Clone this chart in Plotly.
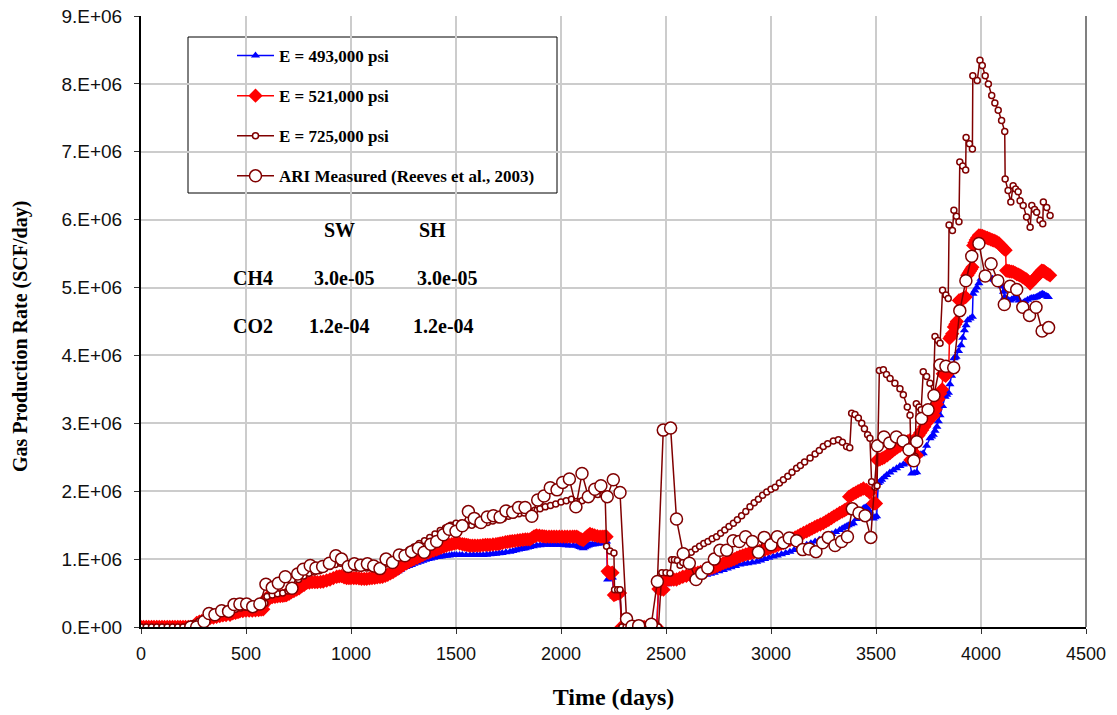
import plotly.graph_objects as go

# ---------------- data: (day, rate in million SCF/day) ----------------
zero_start = [(0, 0), (12, 0), (25, 0), (37, 0), (50, 0), (62, 0), (75, 0), (87, 0), (100, 0), (112, 0), (125, 0),
              (137, 0), (150, 0), (162, 0), (175, 0), (187, 0), (200, 0), (212, 0), (225, 0), (237, 0), (250, 0)]
zero_shutin = [(2288, 0), (2300, 0), (2312, 0), (2324, 0), (2336, 0), (2348, 0), (2360, 0), (2372, 0), (2384, 0),
               (2396, 0), (2408, 0), (2420, 0), (2432, 0), (2444, 0), (2456, 0)]

pts_493_a = [(265, 0.05), (278, 0.07), (290, 0.08), (305, 0.10), (318, 0.11), (329, 0.12), (345, 0.13), (360, 0.14),
             (375, 0.15), (390, 0.16), (405, 0.165), (424, 0.17), (437, 0.19), (450, 0.20), (462, 0.21), (471, 0.22),
             (485, 0.225), (500, 0.23), (515, 0.23), (530, 0.23), (545, 0.235), (560, 0.24), (572, 0.245), (582, 0.25),
             (590, 0.33), (598, 0.41), (612, 0.415), (625, 0.42), (638, 0.425), (650, 0.43), (663, 0.435), (675, 0.44),
             (685, 0.445), (693, 0.45), (705, 0.47), (715, 0.49), (728, 0.51), (741, 0.53), (753, 0.555), (765, 0.58),
             (777, 0.60), (789, 0.63), (802, 0.635), (815, 0.64), (828, 0.64), (840, 0.64), (855, 0.645), (868, 0.65),
             (884, 0.665), (900, 0.68), (916, 0.70), (932, 0.72), (944, 0.725), (955, 0.73), (967, 0.71), (979, 0.70),
             (990, 0.70), (1000, 0.70), (1013, 0.70), (1025, 0.70), (1038, 0.695), (1050, 0.69), (1063, 0.69),
             (1075, 0.69), (1088, 0.695), (1100, 0.70), (1113, 0.705), (1125, 0.71), (1138, 0.715), (1150, 0.72),
             (1163, 0.735), (1175, 0.75), (1188, 0.765), (1200, 0.78), (1213, 0.80), (1225, 0.82), (1237, 0.845),
             (1249, 0.87), (1262, 0.885), (1275, 0.90), (1288, 0.915), (1300, 0.93), (1315, 0.945), (1329, 0.96),
             (1342, 0.975), (1355, 0.99), (1368, 1.00), (1380, 1.01), (1394, 1.02), (1408, 1.03), (1419, 1.035),
             (1430, 1.04), (1443, 1.045), (1455, 1.05), (1468, 1.055), (1480, 1.06), (1492, 1.06), (1503, 1.06),
             (1517, 1.06), (1530, 1.06), (1548, 1.06), (1567, 1.06), (1583, 1.06), (1600, 1.06), (1615, 1.06),
             (1630, 1.06), (1646, 1.065), (1662, 1.07), (1676, 1.075), (1690, 1.08), (1705, 1.085), (1720, 1.09),
             (1738, 1.10), (1757, 1.11), (1771, 1.12), (1785, 1.13), (1798, 1.14), (1810, 1.15), (1820, 1.155),
             (1830, 1.16), (1841, 1.17), (1852, 1.18), (1868, 1.19), (1884, 1.20), (1900, 1.205), (1916, 1.21),
             (1933, 1.21), (1950, 1.21), (1965, 1.21), (1979, 1.21), (1995, 1.21), (2010, 1.21), (2025, 1.205),
             (2040, 1.20), (2058, 1.20), (2075, 1.20), (2083, 1.19), (2090, 1.18), (2098, 1.17), (2106, 1.16),
             (2114, 1.175), (2122, 1.19), (2130, 1.20), (2138, 1.21), (2149, 1.215), (2160, 1.22), (2173, 1.225),
             (2186, 1.23), (2196, 1.24), (2205, 1.25), (2211, 1.255), (2217, 1.26), (2222, 0.70), (2228, 0.71),
             (2233, 0.72), (2239, 0.725), (2245, 0.73), (2252, 0.45), (2258, 0.46), (2265, 0.47), (2273, 0.475),
             (2281, 0.48)]
pts_493_b = [(2464, 0.54), (2476, 0.54), (2488, 0.54), (2503, 0.63), (2511, 0.64), (2519, 0.65), (2535, 0.66),
             (2550, 0.67), (2565, 0.685), (2580, 0.70), (2597, 0.71), (2614, 0.72), (2632, 0.73), (2650, 0.74),
             (2672, 0.755), (2694, 0.77), (2712, 0.785), (2730, 0.80), (2752, 0.82), (2773, 0.84), (2792, 0.86),
             (2810, 0.88), (2831, 0.90), (2852, 0.92), (2871, 0.93), (2890, 0.94), (2911, 0.95), (2932, 0.96),
             (2951, 0.98), (2970, 1.00), (2990, 1.02), (3011, 1.04), (3030, 1.055), (3050, 1.07), (3070, 1.09),
             (3090, 1.11), (3110, 1.135), (3130, 1.16), (3150, 1.185), (3170, 1.21), (3190, 1.235), (3210, 1.26),
             (3230, 1.285), (3249, 1.31), (3270, 1.34), (3290, 1.37), (3308, 1.40), (3327, 1.43), (3339, 1.45),
             (3350, 1.47), (3359, 1.485), (3368, 1.50), (3380, 1.515), (3392, 1.53), (3406, 1.59), (3420, 1.65),
             (3430, 1.70), (3440, 1.75), (3448, 1.76), (3455, 1.77), (3462, 1.735), (3470, 1.70), (3480, 1.64),
             (3487, 1.60), (3495, 1.615), (3503, 1.63), (3511, 2.12), (3519, 2.145), (3527, 2.17), (3539, 2.205),
             (3551, 2.24), (3566, 2.275), (3582, 2.31), (3598, 2.34), (3614, 2.37), (3630, 2.395), (3646, 2.42),
             (3654, 2.415), (3662, 2.41), (3670, 2.26), (3682, 2.27), (3694, 2.28), (3702, 2.53), (3714, 2.545),
             (3725, 2.56), (3741, 2.67), (3757, 2.78), (3765, 2.805), (3773, 2.83), (3781, 2.89), (3790, 2.95),
             (3797, 3.03), (3805, 3.12), (3817, 3.255), (3829, 3.39), (3837, 3.42), (3845, 3.45), (3852, 3.575),
             (3860, 3.70), (3866, 3.83), (3871, 3.96), (3876, 3.97), (3881, 3.98), (3893, 4.065), (3905, 4.15),
             (3913, 4.26), (3921, 4.37), (3929, 4.445), (3937, 4.52), (3948, 4.545), (3959, 4.57), (3962, 4.91),
             (3971, 4.955), (3980, 5.00), (3990, 5.065), (4000, 5.13), (4010, 5.135), (4020, 5.14), (4028, 5.14),
             (4035, 5.14), (4045, 5.135), (4054, 5.13), (4062, 5.115), (4070, 5.10), (4078, 5.09), (4086, 5.08),
             (4093, 5.05), (4100, 5.02), (4107, 4.94), (4113, 4.86), (4125, 4.835), (4138, 4.81), (4146, 4.825),
             (4155, 4.84), (4162, 4.85), (4170, 4.86), (4182, 4.81), (4193, 4.76), (4202, 4.78), (4210, 4.80),
             (4222, 4.82), (4234, 4.84), (4242, 4.845), (4250, 4.85), (4258, 4.855), (4265, 4.86), (4272, 4.875),
             (4280, 4.89), (4287, 4.90), (4294, 4.91), (4302, 4.895), (4310, 4.88), (4316, 4.87), (4321, 4.86)]

pts_521_a = [(265, 0.06), (278, 0.08), (290, 0.09), (305, 0.11), (318, 0.12), (329, 0.13), (345, 0.14), (360, 0.15),
             (375, 0.16), (390, 0.17), (405, 0.175), (424, 0.18), (437, 0.20), (450, 0.21), (462, 0.22), (471, 0.23),
             (485, 0.235), (500, 0.24), (515, 0.24), (530, 0.24), (545, 0.245), (560, 0.25), (572, 0.255), (582, 0.26),
             (590, 0.35), (598, 0.43), (612, 0.435), (625, 0.44), (638, 0.445), (650, 0.45), (663, 0.455), (675, 0.46),
             (685, 0.465), (693, 0.47), (705, 0.49), (715, 0.51), (728, 0.53), (741, 0.55), (753, 0.57), (765, 0.60),
             (777, 0.62), (789, 0.65), (802, 0.655), (815, 0.66), (828, 0.66), (840, 0.66), (855, 0.665), (868, 0.67),
             (884, 0.685), (900, 0.70), (916, 0.72), (932, 0.74), (944, 0.745), (955, 0.75), (967, 0.73), (979, 0.72),
             (990, 0.72), (1000, 0.72), (1013, 0.72), (1025, 0.72), (1038, 0.715), (1050, 0.71), (1063, 0.71),
             (1075, 0.71), (1088, 0.715), (1100, 0.72), (1113, 0.725), (1125, 0.73), (1138, 0.735), (1150, 0.74),
             (1163, 0.755), (1175, 0.77), (1188, 0.79), (1200, 0.81), (1213, 0.835), (1225, 0.86), (1237, 0.885),
             (1249, 0.91), (1262, 0.935), (1275, 0.96), (1288, 0.98), (1300, 1.00), (1315, 1.02), (1329, 1.04),
             (1342, 1.06), (1355, 1.08), (1368, 1.095), (1380, 1.11), (1394, 1.125), (1408, 1.14), (1419, 1.155),
             (1430, 1.17), (1443, 1.185), (1455, 1.20), (1468, 1.21), (1480, 1.22), (1492, 1.23), (1503, 1.24),
             (1517, 1.23), (1530, 1.22), (1540, 1.215), (1550, 1.21), (1558, 1.205), (1567, 1.20), (1578, 1.20),
             (1590, 1.20), (1603, 1.20), (1615, 1.20), (1628, 1.205), (1640, 1.21), (1651, 1.21), (1662, 1.21),
             (1676, 1.215), (1690, 1.22), (1700, 1.225), (1710, 1.23), (1722, 1.24), (1735, 1.25), (1746, 1.255),
             (1757, 1.26), (1768, 1.265), (1780, 1.27), (1793, 1.275), (1805, 1.28), (1818, 1.285), (1830, 1.29),
             (1841, 1.29), (1852, 1.29), (1861, 1.31), (1870, 1.33), (1877, 1.34), (1884, 1.35), (1897, 1.345),
             (1910, 1.34), (1920, 1.335), (1930, 1.33), (1943, 1.33), (1955, 1.33), (1967, 1.33), (1979, 1.33),
             (1992, 1.33), (2005, 1.33), (2018, 1.33), (2030, 1.33), (2043, 1.33), (2055, 1.33), (2065, 1.33),
             (2075, 1.33), (2083, 1.315), (2090, 1.30), (2098, 1.29), (2106, 1.28), (2114, 1.305), (2122, 1.33),
             (2130, 1.35), (2138, 1.37), (2149, 1.36), (2160, 1.35), (2173, 1.34), (2186, 1.33), (2196, 1.33),
             (2205, 1.33), (2211, 1.33), (2217, 1.33), (2222, 0.82), (2228, 0.80), (2233, 0.79), (2239, 0.795),
             (2245, 0.80), (2252, 0.47), (2258, 0.48), (2265, 0.49), (2273, 0.495), (2281, 0.50)]
pts_521_b = [(2464, 0.56), (2476, 0.555), (2488, 0.55), (2503, 0.70), (2514, 0.70), (2525, 0.70), (2537, 0.70),
             (2550, 0.70), (2565, 0.72), (2580, 0.74), (2597, 0.755), (2614, 0.77), (2627, 0.78), (2640, 0.79),
             (2652, 0.80), (2665, 0.81), (2680, 0.825), (2694, 0.84), (2707, 0.855), (2720, 0.87), (2733, 0.885),
             (2745, 0.90), (2759, 0.92), (2773, 0.94), (2786, 0.955), (2800, 0.97), (2812, 0.985), (2825, 1.00),
             (2838, 1.02), (2852, 1.04), (2866, 1.055), (2880, 1.07), (2893, 1.08), (2905, 1.09), (2918, 1.10),
             (2932, 1.11), (2946, 1.12), (2960, 1.13), (2972, 1.14), (2985, 1.15), (2998, 1.165), (3011, 1.18),
             (3023, 1.195), (3035, 1.21), (3048, 1.225), (3060, 1.24), (3075, 1.26), (3090, 1.28), (3102, 1.30),
             (3115, 1.32), (3128, 1.34), (3140, 1.36), (3155, 1.385), (3170, 1.41), (3183, 1.43), (3195, 1.45),
             (3208, 1.47), (3220, 1.49), (3235, 1.51), (3249, 1.53), (3262, 1.555), (3275, 1.58), (3288, 1.605),
             (3300, 1.63), (3314, 1.655), (3327, 1.68), (3339, 1.70), (3350, 1.72), (3359, 1.735), (3368, 1.75),
             (3372, 1.92), (3382, 1.94), (3392, 1.96), (3404, 1.98), (3415, 2.00), (3428, 2.02), (3440, 2.04),
             (3455, 2.02), (3470, 1.98), (3487, 1.82), (3494, 1.82), (3500, 1.82), (3506, 2.46), (3513, 2.465),
             (3519, 2.47), (3530, 2.485), (3540, 2.50), (3554, 2.53), (3567, 2.56), (3578, 2.59), (3590, 2.62),
             (3602, 2.645), (3614, 2.67), (3627, 2.695), (3640, 2.72), (3650, 2.735), (3660, 2.75), (3664, 2.46),
             (3672, 2.48), (3680, 2.50), (3687, 2.515), (3694, 2.53), (3702, 2.82), (3711, 2.86), (3720, 2.90),
             (3730, 2.95), (3740, 3.00), (3749, 3.035), (3757, 3.07), (3766, 3.095), (3775, 3.12), (3783, 3.20),
             (3790, 3.28), (3798, 3.36), (3806, 3.44), (3815, 3.50), (3818, 3.73), (3825, 3.715), (3832, 3.70),
             (3839, 3.73), (3846, 3.76), (3850, 4.25), (3856, 4.28), (3863, 4.32), (3871, 4.42), (3878, 4.46),
             (3885, 4.50), (3895, 4.81), (3902, 4.82), (3910, 4.83), (3918, 4.845), (3927, 4.86), (3935, 5.18),
             (3941, 5.21), (3947, 5.24), (3953, 5.27), (3959, 5.30), (3963, 5.62), (3969, 5.66), (3975, 5.70),
             (3982, 5.735), (3990, 5.77), (3998, 5.765), (4006, 5.76), (4014, 5.75), (4022, 5.74), (4030, 5.73),
             (4038, 5.72), (4046, 5.71), (4054, 5.70), (4062, 5.69), (4070, 5.68), (4078, 5.665), (4086, 5.65),
             (4093, 5.625), (4100, 5.60), (4108, 5.575), (4117, 5.55), (4120, 5.25), (4128, 5.245), (4135, 5.24),
             (4144, 5.235), (4153, 5.23), (4162, 5.215), (4170, 5.20), (4178, 5.19), (4185, 5.18), (4193, 5.165),
             (4200, 5.15), (4208, 5.135), (4217, 5.12), (4225, 5.09), (4234, 5.06), (4242, 5.09), (4250, 5.12),
             (4258, 5.14), (4265, 5.16), (4273, 5.19), (4280, 5.22), (4289, 5.25), (4295, 5.245), (4300, 5.24),
             (4307, 5.225), (4313, 5.21), (4321, 5.195), (4329, 5.18)]

days_725 = [0, 25, 50, 75, 100, 125, 150, 175, 200, 225, 250, 275, 300, 325, 350, 375, 400, 425, 450, 475, 500, 525,
            550, 575, 590, 600, 625, 650, 675, 700, 725, 750, 775, 800, 825, 850, 875, 900, 925, 950, 975, 1000, 1025,
            1050, 1075, 1100, 1125, 1150, 1175, 1200, 1225, 1250, 1275, 1300, 1325, 1350, 1375, 1400, 1425, 1450, 1475,
            1500, 1525, 1550, 1575, 1600, 1625, 1650, 1675, 1700, 1725, 1750, 1775, 1800, 1825, 1850, 1875, 1900, 1925,
            1950, 1975, 2000, 2025, 2050, 2075, 2100, 2125, 2150, 2175, 2200, 2210, 2217, 2233, 2252, 2255, 2270, 2281,
            2290, 2310, 2330, 2350, 2370, 2390, 2410, 2430, 2450, 2464, 2480, 2500, 2519, 2527, 2540, 2554, 2567, 2580,
            2598, 2620, 2640, 2660, 2680, 2700, 2720, 2741, 2760, 2780, 2800, 2821, 2840, 2860, 2880, 2900, 2920, 2940,
            2960, 2980, 3000, 3020, 3040, 3059, 3080, 3100, 3122, 3140, 3160, 3186, 3210, 3230, 3249, 3270, 3297, 3321,
            3340, 3360, 3375, 3384, 3400, 3416, 3432, 3445, 3460, 3471, 3479, 3495, 3505, 3516, 3535, 3550, 3567, 3590,
            3614, 3630, 3649, 3662, 3666, 3686, 3692, 3705, 3715, 3725, 3741, 3757, 3773, 3781, 3795, 3805, 3817, 3833,
            3844, 3848, 3864, 3871, 3883, 3895, 3899, 3913, 3927, 3929, 3945, 3959, 3961, 3982, 3995, 4006, 4020, 4035,
            4051, 4066, 4082, 4098, 4113, 4115, 4129, 4142, 4153, 4165, 4177, 4186, 4201, 4217, 4234, 4242, 4255, 4265,
            4281, 4294, 4297, 4313, 4329]
rate_725 = [0, 0, 0, 0, 0, 0, 0, 0, 0, 0.02, 0.05, 0.08, 0.12, 0.16, 0.18, 0.20, 0.22, 0.24, 0.26, 0.28, 0.29, 0.29,
            0.30, 0.31, 0.35, 0.45, 0.47, 0.49, 0.50, 0.53, 0.60, 0.70, 0.75, 0.79, 0.81, 0.83, 0.86, 0.89, 0.92, 0.94,
            0.90, 0.88, 0.87, 0.87, 0.87, 0.87, 0.88, 0.90, 0.93, 0.97, 1.02, 1.08, 1.13, 1.18, 1.23, 1.27, 1.32, 1.37,
            1.42, 1.46, 1.50, 1.53, 1.53, 1.50, 1.50, 1.52, 1.53, 1.54, 1.56, 1.58, 1.60, 1.63, 1.65, 1.67, 1.68, 1.70,
            1.72, 1.74, 1.77, 1.79, 1.81, 1.84, 1.86, 1.88, 1.85, 1.86, 1.90, 1.94, 1.95, 1.95, 1.95, 1.19, 1.12, 1.09,
            0.55, 0.55, 0.55, 0, 0, 0, 0, 0, 0, 0, 0, 0, 0, 0.80, 0.80, 0.79, 0.99, 0.99, 0.98, 0.91, 0.95, 1.04, 1.10,
            1.15, 1.19, 1.23, 1.26, 1.30, 1.33, 1.38, 1.43, 1.48, 1.53, 1.58, 1.64, 1.70, 1.77, 1.83, 1.88, 1.94, 1.99,
            2.03, 2.06, 2.12, 2.17, 2.22, 2.28, 2.34, 2.38, 2.43, 2.49, 2.55, 2.60, 2.66, 2.70, 2.74, 2.76, 2.72, 2.66,
            2.64, 3.15, 3.13, 3.08, 3.00, 2.92, 2.83, 2.78, 2.14, 2.06, 2.08, 3.78, 3.79, 3.72, 3.66, 3.59, 3.51, 3.42,
            3.24, 3.12, 2.58, 2.51, 3.29, 3.24, 3.20, 3.76, 3.69, 3.59, 3.44, 4.28, 4.22, 4.18, 4.96, 4.89, 4.84, 5.92,
            5.84, 6.14, 6.05, 5.97, 6.85, 6.79, 6.73, 7.21, 7.12, 7.04, 8.12, 8.05, 8.35, 8.27, 8.12, 8.00, 7.83, 7.72,
            7.61, 7.46, 7.30, 6.60, 6.43, 6.26, 6.50, 6.45, 6.41, 6.28, 6.21, 6.04, 5.89, 6.21, 6.15, 6.11, 5.99, 5.94,
            6.26, 6.18, 6.06]

days_meas = [237, 265, 300, 324, 352, 384, 417, 443, 471, 503, 532, 566, 595, 625, 654, 687, 719, 746, 773, 806, 833,
             865, 897, 928, 955, 987, 1016, 1046, 1078, 1108, 1138, 1167, 1198, 1230, 1257, 1289, 1321, 1348, 1380,
             1408, 1440, 1468, 1500, 1530, 1559, 1587, 1619, 1649, 1678, 1710, 1738, 1770, 1798, 1829, 1861, 1889,
             1919, 1949, 1981, 2008, 2040, 2071, 2100, 2130, 2161, 2190, 2220, 2249, 2281, 2312, 2338, 2370, 2430,
             2459, 2487, 2522, 2550, 2582, 2611, 2643, 2670, 2699, 2730, 2757, 2789, 2820, 2849, 2879, 2911, 2940,
             2968, 3000, 3030, 3059, 3087, 3122, 3151, 3182, 3214, 3246, 3273, 3305, 3336, 3364, 3387, 3419, 3448,
             3475, 3507, 3538, 3565, 3597, 3629, 3657, 3680, 3694, 3717, 3748, 3776, 3805, 3833, 3870, 3899, 3928,
             3956, 3990, 4020, 4048, 4080, 4111, 4138, 4170, 4199, 4231, 4262, 4291, 4322]
rate_meas = [0.0, 0.0, 0.08, 0.20, 0.18, 0.24, 0.23, 0.33, 0.34, 0.34, 0.30, 0.34, 0.63, 0.58, 0.645, 0.74, 0.57, 0.78,
             0.85, 0.905, 0.87, 0.89, 0.94, 1.05, 1.00, 0.89, 0.93, 0.91, 0.93, 0.90, 0.86, 1.00, 0.95, 1.06, 1.05,
             1.11, 1.16, 1.10, 1.22, 1.26, 1.36, 1.44, 1.41, 1.49, 1.70, 1.60, 1.54, 1.62, 1.64, 1.62, 1.71, 1.69,
             1.76, 1.76, 1.63, 1.87, 1.93, 2.05, 2.02, 2.13, 2.18, 1.77, 2.26, 1.92, 2.03, 2.08, 1.92, 2.17, 1.98,
             0.12, 0.01, 0.02, 0.04, 0.67, 2.90, 2.93, 1.59, 1.08, 0.94, 0.70, 0.79, 0.87, 1.00, 1.13, 1.13, 1.27,
             1.26, 1.33, 1.26, 1.10, 1.32, 1.21, 1.33, 1.24, 1.31, 1.27, 1.14, 1.15, 1.11, 1.24, 1.32, 1.20, 1.26,
             1.33, 1.74, 1.68, 1.64, 1.32, 2.67, 2.80, 2.71, 2.80, 2.74, 2.61, 2.45, 2.73, 3.07, 3.20, 3.41, 3.86,
             3.84, 3.82, 4.66, 5.10, 5.46, 5.65, 5.17, 5.35, 5.10, 4.75, 5.02, 4.97, 4.71, 4.59, 4.71, 4.36, 4.41]

series_names = ["E = 493,000 psi", "E = 521,000 psi", "E = 725,000 psi", "ARI Measured (Reeves et al., 2003)"]
y_tick_vals = [0, 1e6, 2e6, 3e6, 4e6, 5e6, 6e6, 7e6, 8e6, 9e6]
y_tick_text = ["0.E+00", "1.E+06", "2.E+06", "3.E+06", "4.E+06", "5.E+06", "6.E+06", "7.E+06", "8.E+06", "9.E+06"]
x_tick_vals = [0, 500, 1000, 1500, 2000, 2500, 3000, 3500, 4000, 4500]
table_header = ["SW", "SH"]
table_rows = [("CH4", "3.0e-05", "3.0e-05"), ("CO2", "1.2e-04", "1.2e-04")]
x_title = "Time (days)"
y_title = "Gas Production Rate (SCF/day)"

# ---------------- figure ----------------
SERIF = "Liberation Serif, Times New Roman, serif"
SANS = "Liberation Sans, Arial, sans-serif"
DARK = "#800000"


def unpack(pts):
    return [p[0] for p in pts], [p[1] * 1e6 for p in pts]


d493, r493 = unpack(zero_start + pts_493_a + zero_shutin + pts_493_b)
d521, r521 = unpack(zero_start + pts_521_a + zero_shutin + pts_521_b)

fig = go.Figure()
fig.add_trace(go.Scatter(x=d493, y=r493, name=series_names[0], mode="lines+markers",
                         line=dict(color="#0000FF", width=1.5),
                         marker=dict(symbol="triangle-up", size=8, color="#0000FF"),
                         legendgroup="a"))
fig.add_trace(go.Scatter(x=d521, y=r521, name=series_names[1], mode="lines+markers",
                         line=dict(color="#FF0000", width=1.5),
                         marker=dict(symbol="diamond", size=11, color="#FF0000"),
                         legendgroup="b"))
fig.add_trace(go.Scatter(x=days_725, y=[v * 1e6 for v in rate_725], name=series_names[2], mode="lines+markers",
                         line=dict(color=DARK, width=1.5),
                         marker=dict(symbol="circle", size=6, color="white", line=dict(color=DARK, width=1.5)),
                         legendgroup="c"))
fig.add_trace(go.Scatter(x=days_meas, y=[v * 1e6 for v in rate_meas], name=series_names[3], mode="lines+markers",
                         line=dict(color=DARK, width=1.5),
                         marker=dict(symbol="circle", size=12, color="white", line=dict(color=DARK, width=1.5)),
                         legendgroup="d"))

# page body margin is removed (post_script), so figure pixels == screenshot pixels
W, H = 1117, 715
SL, SR, ST, SB = 141, 1086, 16, 627
L, T = SL, ST
R, B = W - SR, H - SB


def px_x(p):
    return (p - SL) / (SR - SL)


def px_y(p):
    return (SB - p) / (SB - ST)


shapes = [
    dict(type="rect", xref="paper", yref="paper", x0=px_x(188), x1=px_x(557), y0=px_y(193), y1=px_y(37),
         line=dict(color="#000000", width=1), fillcolor="white", layer="below"),
    dict(type="rect", xref="paper", yref="paper", x0=px_x(226), x1=px_x(557), y0=px_y(346), y1=px_y(216),
         line=dict(width=0), fillcolor="white", layer="below"),
    dict(type="line", xref="paper", yref="paper", x0=1, x1=1, y0=0, y1=1,
         line=dict(color="#808080", width=2)),
]

annotations = []
tfont = dict(family=SERIF, size=20, color="black", weight="bold")
for t, xx in zip(table_header, [339, 432]):
    annotations.append(dict(text=t, x=px_x(xx), y=px_y(230), xref="paper", yref="paper",
                            xanchor="center", yanchor="middle", showarrow=False, font=tfont))
for (lab, v1, v2), yy, cx in zip(table_rows, [278, 326], [[344, 447], [339, 443]]):
    annotations.append(dict(text=lab, x=px_x(231), y=px_y(yy), xref="paper", yref="paper",
                            xanchor="left", yanchor="middle", showarrow=False, font=tfont))
    for v, xx in zip((v1, v2), cx):
        annotations.append(dict(text=v, x=px_x(xx), y=px_y(yy), xref="paper", yref="paper",
                                xanchor="center", yanchor="middle", showarrow=False, font=tfont))
# y-axis title (slightly below the plot-area centre, as in the original)
annotations.append(dict(text=y_title, textangle=-90, x=px_x(20), y=px_y(337), xref="paper", yref="paper",
                        xanchor="center", yanchor="middle", showarrow=False,
                        font=dict(family=SERIF, size=20, color="black", weight="bold")))

fig.update_layout(
    width=W, height=H,
    margin=dict(l=L, r=R, t=T, b=B, pad=0, autoexpand=False),
    paper_bgcolor="white", plot_bgcolor="white",
    showlegend=True,
    legend=dict(x=px_x(232), y=px_y(38), xanchor="left", yanchor="top",
                bgcolor="rgba(0,0,0,0)", borderwidth=0,
                font=dict(family=SERIF, size=17, color="black", weight="bold"),
                tracegroupgap=15, itemwidth=37),
    shapes=shapes,
    annotations=annotations,
    xaxis=dict(range=[0, 4500], tickvals=x_tick_vals, showgrid=True, gridcolor="#cccccc", gridwidth=1.5,
               zeroline=False, showline=True, linecolor="black", linewidth=2, automargin=False,
               ticks="outside", ticklen=5, tickcolor="#333", tickwidth=1, ticklabeloverflow="allow",
               tickfont=dict(family=SANS, size=18, color="#111"), ticklabelstandoff=4,
               title=dict(text=x_title, font=dict(family=SERIF, size=24, color="black", weight="bold"),
                          standoff=26)),
    yaxis=dict(range=[0, 9e6], tickvals=y_tick_vals, ticktext=y_tick_text, showgrid=True, gridcolor="#cccccc",
               gridwidth=1.5, zeroline=False, showline=True, linecolor="black", linewidth=2, automargin=False,
               ticks="outside", ticklen=5, tickcolor="#333", tickwidth=1, ticklabeloverflow="allow",
               tickfont=dict(family=SANS, size=19, color="#111"), ticklabelstandoff=8),
)

fig.write_html("out.html", config={"displayModeBar": False},
               post_script="document.body.style.margin='0';document.body.style.overflow='hidden';")
